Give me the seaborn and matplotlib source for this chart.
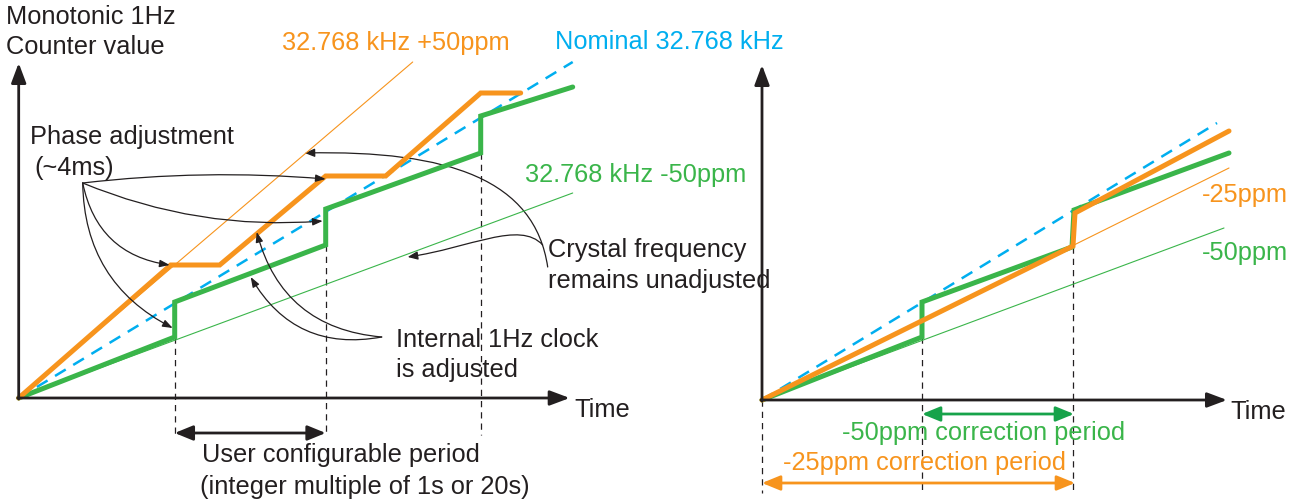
import numpy as np
import matplotlib.pyplot as plt
import seaborn as sns
from matplotlib.path import Path
from matplotlib.patches import FancyArrowPatch

sns.set_style('white')
plt.rcParams['font.family'] = ['Liberation Sans', 'DejaVu Sans']

ORANGE = '#F7941D'
GREEN = '#3AB54A'
DGREEN = '#17A34A'
BLUE = '#00AEEF'
INK = '#231f20'

# left panel: counter value vs time (arbitrary units)
l_nominal_t = [0, 554]
l_nominal_c = [0, 336]
l_fast_t = [0, 394]
l_fast_c = [0, 336]
l_fast_adj_t = [0, 152, 201, 307, 367, 462, 502]
l_fast_adj_c = [0, 133, 133, 222, 222, 305, 305]
l_slow_t = [0, 554]
l_slow_c = [0, 205]
l_slow_adj_t = [0, 156, 156, 307, 307, 462, 462, 554]
l_slow_adj_c = [0, 61, 96, 153, 189, 245, 282, 311]
l_marks = [156, 307, 462]
l_marks_c = [61, 153, 245]

# right panel
r_nominal_t = [0, 455]
r_nominal_c = [0, 277]
r_m25_t = [0, 467]
r_m25_c = [0, 232]
r_m25_adj_t = [0, 311, 313, 467]
r_m25_adj_c = [0, 154, 187, 269]
r_m50_t = [0, 462]
r_m50_c = [0, 172]
r_m50_adj_t = [0, 160, 160, 310, 312, 467]
r_m50_adj_c = [0, 63, 98, 153, 190, 247]
r_marks = [0, 160, 311]
r_marks_c = [0, 63, 153]

fig = plt.figure(figsize=(13, 5.04), dpi=100)
axl = fig.add_axes([0, 0, 0.5, 1])
axr = fig.add_axes([0.5, 0, 0.5, 1])
axl.set_xlim(-18.7, 631.3)
axl.set_ylim(-106, 398)
axr.set_xlim(-112, 538)
axr.set_ylim(-104, 400)
for ax in (axl, axr):
    ax.set_axis_off()


def line(ax, t, c, color, lw, ls='-'):
    sns.lineplot(x=t, y=c, ax=ax, color=color, lw=lw, ls=ls, sort=False,
                 estimator=None, solid_joinstyle='miter')


def axes_arrows(ax, xtip, ytip):
    st = '-|>,head_length=1.2,head_width=0.45'
    ax.annotate('', xy=(0, ytip), xytext=(0, -1),
                arrowprops=dict(arrowstyle=st, lw=2, color=INK, shrinkA=0, shrinkB=0))
    ax.annotate('', xy=(xtip, 0), xytext=(-1, 0),
                arrowprops=dict(arrowstyle=st, lw=2, color=INK, shrinkA=0, shrinkB=0))


def dbl_arrow(ax, x0, x1, y, color):
    ax.annotate('', xy=(x1, y), xytext=(x0, y),
                arrowprops=dict(arrowstyle='<|-|>,head_length=1.1,head_width=0.45',
                                lw=2, color=color, shrinkA=0, shrinkB=0))


def pointer(ax, start, end, rad):
    ax.annotate('', xy=end, xytext=start,
                arrowprops=dict(arrowstyle='-|>,head_length=0.6,head_width=0.22',
                                lw=0.9, color=INK, shrinkA=0, shrinkB=0,
                                connectionstyle='arc3,rad=%s' % rad))


def bezier_pointer(ax, pts):
    path = Path(pts, [Path.MOVETO, Path.CURVE4, Path.CURVE4, Path.CURVE4])
    ax.add_patch(FancyArrowPatch(path=path, arrowstyle='-|>,head_length=6,head_width=2.5',
                                 lw=0.9, color=INK, shrinkA=0, shrinkB=0))


# ---- left panel ----
for t, c in zip(l_marks, l_marks_c):
    axl.plot([t, t], [c, -37], ls=(0, (5, 4)), lw=0.9, color=INK)
axes_arrows(axl, 551, 335)
line(axl, l_fast_t, l_fast_c, ORANGE, 0.8)
line(axl, l_slow_t, l_slow_c, GREEN, 0.8)
line(axl, l_nominal_t, l_nominal_c, BLUE, 1.8, (0, (5, 3.5)))
line(axl, l_slow_adj_t, l_slow_adj_c, GREEN, 3.6)
line(axl, l_fast_adj_t, l_fast_adj_c, ORANGE, 3.6)
dbl_arrow(axl, 156, 307, -35, INK)

fs = 18.3
axl.text(-13, 381, 'Monotonic 1Hz', fontsize=fs, va='center', color=INK)
axl.text(-13, 351, 'Counter value', fontsize=fs, va='center', color=INK)
axl.text(263, 355, '32.768 kHz +50ppm', fontsize=fs, va='center', color=ORANGE)
axl.text(536, 356, 'Nominal 32.768 kHz', fontsize=fs, va='center', color=BLUE)
axl.text(506, 223, '32.768 kHz -50ppm', fontsize=fs, va='center', color=GREEN)
axl.text(11, 261, 'Phase adjustment', fontsize=fs, va='center', color=INK)
axl.text(16, 230, '(~4ms)', fontsize=fs, va='center', color=INK)
axl.text(529, 148, 'Crystal frequency', fontsize=fs, va='center', color=INK)
axl.text(529, 117, 'remains unadjusted', fontsize=fs, va='center', color=INK)
axl.text(377, 58, 'Internal 1Hz clock', fontsize=fs, va='center', color=INK)
axl.text(377, 28, 'is adjusted', fontsize=fs, va='center', color=INK)
axl.text(556, -12, 'Time', fontsize=fs, va='center', color=INK)
axl.text(183, -57, 'User configurable period', fontsize=fs, va='center', color=INK)
axl.text(181, -89, '(integer multiple of 1s or 20s)', fontsize=fs, va='center', color=INK)

src = (64, 215)
pointer(axl, src, (307, 219), -0.05)
pointer(axl, src, (304, 177), 0.12)
pointer(axl, src, (151, 133), 0.35)
pointer(axl, src, (154, 70), 0.3)
bezier_pointer(axl, [(529, 131), (516, 218), (431, 248), (286, 245)])
bezier_pointer(axl, [(524, 153), (501, 178), (451, 150), (389, 141)])
pointer(axl, (363, 61), (238, 166), -0.35)
pointer(axl, (363, 61), (232, 121), -0.35)

# ---- right panel ----
for t, c in zip(r_marks, r_marks_c):
    axr.plot([t, t], [c, -93], ls=(0, (5, 4)), lw=0.9, color=INK)
axes_arrows(axr, 465, 335)
line(axr, r_m25_t, r_m25_c, ORANGE, 0.8)
line(axr, r_m50_t, r_m50_c, GREEN, 0.8)
line(axr, r_nominal_t, r_nominal_c, BLUE, 1.8, (0, (5, 3.5)))
line(axr, r_m50_adj_t, r_m50_adj_c, GREEN, 3.6)
line(axr, r_m25_adj_t, r_m25_adj_c, ORANGE, 3.6)
dbl_arrow(axr, 160, 312, -14, DGREEN)
dbl_arrow(axr, 0, 313, -83, ORANGE)

axr.text(468, -12, 'Time', fontsize=fs, va='center', color=INK)
axr.text(440, 205, '-25ppm', fontsize=fs, va='center', color=ORANGE)
axr.text(440, 147, '-50ppm', fontsize=fs, va='center', color=GREEN)
axr.text(80, -33, '-50ppm correction period', fontsize=fs, va='center', color=GREEN)
axr.text(21, -63, '-25ppm correction period', fontsize=fs, va='center', color=ORANGE)

fig.savefig('out.png', dpi=100)
